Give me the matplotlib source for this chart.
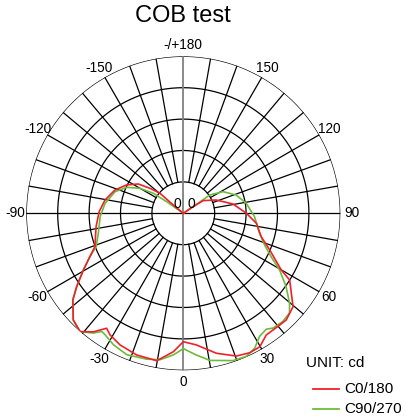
import numpy as np
import matplotlib.pyplot as plt
from matplotlib.lines import Line2D

plt.rcParams['font.family'] = ['Liberation Sans', 'DejaVu Sans']

# C0/180 plane: gamma angle [deg], luminous intensity [cd]
c0_gamma = [-130, -129.7, -130.6, -126.9, -123.1, -116.6, -108.8, -99.6, -91.1, -81.3,
            -69.3, -65.1, -60.4, -55.5, -51.9, -45.9, -41.1, -37.2, -33.7, -31.1,
            -25.7, -18.2, -10.2, -4.1, 0, 5.6, 13.3, 20.4, 25.5, 29.8,
            34.3, 40.8, 44.0, 49.6, 53.5, 57.9, 59.9, 67.0, 73.3, 82.2,
            90, 100.6, 112.0, 122.6, 124.2, 127]
c0_cd = [0, 41, 98, 132, 171, 202, 230, 253, 268, 281,
         301, 328, 366, 412, 447, 488, 500, 474, 440, 452,
         465, 475, 477, 442, 409, 421, 458, 485, 492, 490,
         469, 470, 472, 459, 428, 400, 361, 299, 259, 235,
         201, 161, 113, 75, 37, 0]

# C90/270 plane
c90_gamma = [-127, -124.9, -123.7, -120.0, -114.7, -107.6, -97.3, -87.7, -76.8, -69.1,
             -65.1, -60.4, -55.5, -51.9, -45.9, -41.1, -36.9, -34.6, -32.8, -28.0,
             -21.8, -14.1, -9.0, -4.0, 0, 5.2, 10.2, 18.6, 23.7, 27.9,
             31.8, 35.6, 38.0, 42.6, 46.8, 49.8, 54.5, 59.5, 63.7, 68.7,
             75.3, 87.3, 99.0, 109.1, 118.6, 124.7, 124.2, 126]
c90_cd = [0, 65, 115, 159, 198, 228, 251, 265, 278, 297,
          328, 366, 412, 447, 488, 500, 477, 457, 460, 474,
          485, 479, 472, 452, 431, 453, 476, 495, 498, 486,
          461, 454, 464, 468, 464, 443, 402, 356, 312, 278,
          251, 227, 203, 178, 144, 102, 57, 0]

ring_cd = [100, 200, 300, 400, 500]
label_angles = [0, 30, 60, 90, 120, 150, 180, -150, -120, -90, -60, -30]
label_texts = ['0', '30', '60', '90', '120', '150', '-/+180', '-150', '-120', '-90', '-60', '-30']

W, H = 407, 418
fig = plt.figure(figsize=(W / 100, H / 100), dpi=100)
cx, cy, R = 183.3, H - 213.3, 157
ax = fig.add_axes([(cx - R) / W, (cy - R) / H, 2 * R / W, 2 * R / H], projection='polar')
ax.set_theta_zero_location('S')
ax.set_theta_direction(1)
ax.set_ylim(0, 500)
ax.grid(False)
ax.set_xticks([])
ax.set_yticks([])
ax.spines['polar'].set_visible(False)

# grid
t = np.linspace(0, 2 * np.pi, 721)
for r in ring_cd:
    ax.plot(t, np.full_like(t, r), color='black', lw=0.9, zorder=1)
for a in range(0, 360, 10):
    if a % 90 == 0:
        continue
    th = np.deg2rad(a)
    ax.plot([th, th], [ring_cd[0], ring_cd[-1]], color='black', lw=0.9, zorder=1)
for a in (90, 270):
    ax.plot([np.deg2rad(a)] * 2, [0, 500], color='black', lw=0.9, zorder=1)
for a in (0, 180):
    ax.plot([np.deg2rad(a)] * 2, [0, 500], color='#808080', lw=1.3, zorder=1)

ax.plot(np.deg2rad(c90_gamma), c90_cd, color='#6cbb3c', lw=1.2, zorder=3)
ax.plot(np.deg2rad(c0_gamma), c0_cd, color='#f0202a', lw=1.2, zorder=4)

for a, s in zip(label_angles, label_texts):
    ax.text(np.deg2rad(a), 536, s, ha='center', va='center', fontsize=9.8, clip_on=False)

fig.text(177.3 / W, 1 - 204.3 / H, '0', ha='center', va='center', fontsize=10)
fig.text(191 / W, 1 - 204.3 / H, '0', ha='center', va='center', fontsize=10)

fig.text(183 / W, 1 - 16 / H, 'COB test', ha='center', va='center', fontsize=17)

# legend
fig.text(306 / W, 1 - 363 / H, 'UNIT: cd', ha='left', va='center', fontsize=11)
for y, c, s in [(389, '#f0202a', 'C0/180'), (409, '#6cbb3c', 'C90/270')]:
    fig.add_artist(Line2D([313 / W, 339 / W], [1 - y / H, 1 - y / H], color=c, lw=1.3,
                          transform=fig.transFigure))
    fig.text(344 / W, 1 - y / H, s, ha='left', va='center', fontsize=11)

fig.savefig('out.png', dpi=100)
